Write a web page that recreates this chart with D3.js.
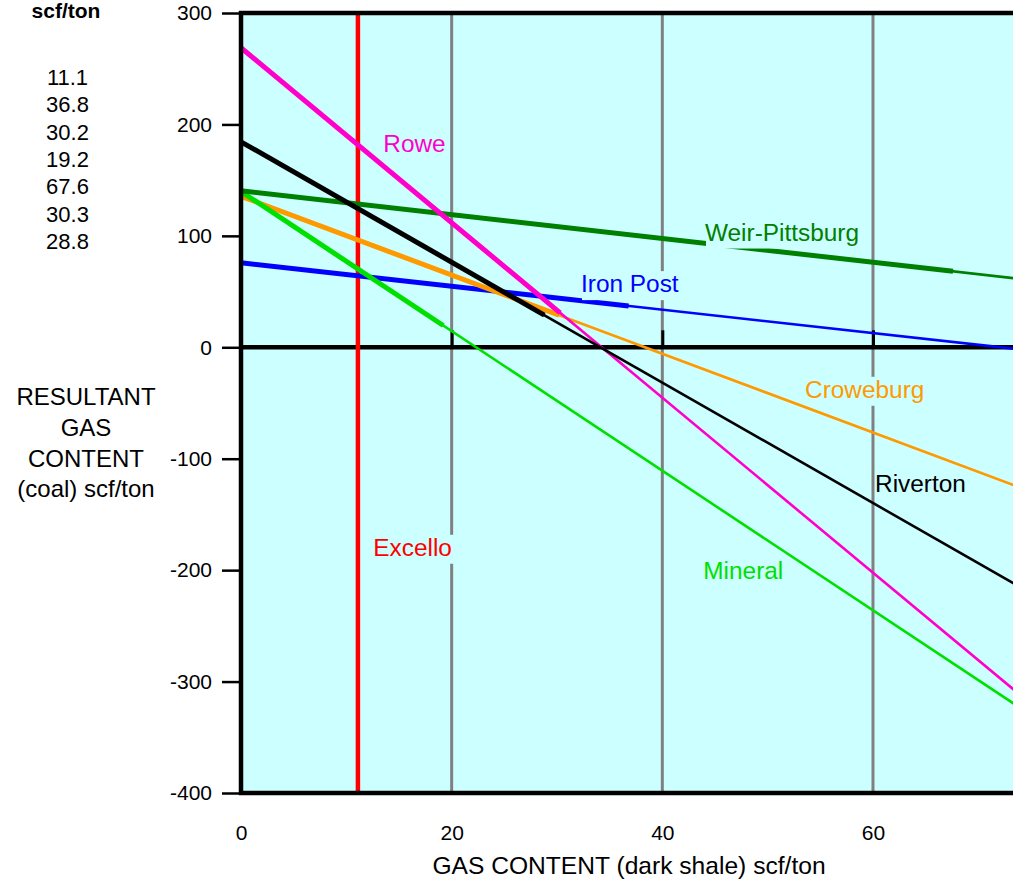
<!DOCTYPE html>
<html><head><meta charset="utf-8">
<script src="https://cdn.jsdelivr.net/npm/d3@7"></script>
<style>
body{margin:0;background:#fff}
svg{display:block;font-family:"Liberation Sans",Arial,Helvetica,sans-serif}
</style>
</head><body>
<svg id="chart" width="1013" height="884"></svg>
<script>
// ---- data ----
const seams      = ["Excello", "Iron Post", "Croweburg", "Mineral", "Weir-Pittsburg", "Rowe", "Riverton"];
const shaleGas   = [11.1, 36.8, 30.2, 19.2, 67.6, 30.3, 28.8];          // scf/ton (thick part ends here)
const coalAtZero = [null, 75.8, 135.5, 139.8, 140.5, 268.8, 184.4];     // resultant gas content at x = 0
const coalAtEnd  = [null, -8.3, -147.1, -361.3, 54.9, -359.3, -247.8];  // resultant gas content at x = 80
const labelAtX   = [12.56, 32.28, 53.55, 43.89, 44.05, 13.51, 60.2];    // label anchor (data units)
const labelAtY   = [-187.1, 49.5, -45.3, -207.8, 95.8, 175.4, -129.7];
const xTicks = [0, 20, 40, 60];
const yTicks = [300, 200, 100, 0, -100, -200, -300, -400];
const gridX  = [20, 40, 60];
const yTitleLines = ["RESULTANT", "GAS", "CONTENT", "(coal) scf/ton"];
const xTitle = "GAS CONTENT (dark shale) scf/ton";
const listTitle = "scf/ton";

const seamColors = ["#FF0000", "#0000FF", "#FF9900", "#00E000", "#008000", "#FF00CC", "#000000"];
const plotBg = "#CCFFFF";

// ---- scales ----
const xDomainEnd = 80;
const x = d3.scaleLinear().domain([0, xDomainEnd]).range([241, 241 + xDomainEnd * 10.533]);
const y = d3.scaleLinear().domain([-400, 300]).range([793, 13]);

const svg = d3.select("#chart");

// plot background
svg.append("rect")
  .attr("x", x(0)).attr("y", y(300))
  .attr("width", x(xDomainEnd) - x(0)).attr("height", y(-400) - y(300))
  .attr("fill", plotBg);

// vertical grid lines
svg.append("g").selectAll("line").data(gridX).join("line")
  .attr("x1", d => x(d)).attr("x2", d => x(d))
  .attr("y1", y(300)).attr("y2", y(-400))
  .attr("stroke", "#808080").attr("stroke-width", 3);

// zero line
svg.append("line")
  .attr("x1", x(0)).attr("x2", x(xDomainEnd))
  .attr("y1", y(0)).attr("y2", y(0))
  .attr("stroke", "#000").attr("stroke-width", 4.5);

// zero-line ticks
const zeroAxis = svg.append("g").attr("transform", `translate(0,${y(0)})`)
  .call(d3.axisTop(x).tickValues(gridX).tickSize(17).tickFormat(""));
zeroAxis.select(".domain").remove();
zeroAxis.selectAll("line").attr("stroke", "#000").attr("stroke-width", 3);

// seam lines: thin full line + thick part from 0 to the seam's shale gas value
const lineG = svg.append("g");
seams.forEach((name, i) => {
  const c = seamColors[i];
  if (coalAtZero[i] === null) {
    // vertical line (Excello)
    lineG.append("line")
      .attr("x1", x(shaleGas[i])).attr("x2", x(shaleGas[i]))
      .attr("y1", y(300)).attr("y2", y(-400))
      .attr("stroke", c).attr("stroke-width", 4.5);
    return;
  }
  const f = v => coalAtZero[i] + (coalAtEnd[i] - coalAtZero[i]) * v / xDomainEnd;
  lineG.append("line")
    .attr("x1", x(0)).attr("y1", y(f(0)))
    .attr("x2", x(xDomainEnd)).attr("y2", y(f(xDomainEnd)))
    .attr("stroke", c).attr("stroke-width", 2.6);
  lineG.append("line")
    .attr("x1", x(0)).attr("y1", y(f(0)))
    .attr("x2", x(shaleGas[i])).attr("y2", y(f(shaleGas[i])))
    .attr("stroke", c).attr("stroke-width", 5);
});

// seam labels with background boxes
const labG = svg.append("g");
seams.forEach((name, i) => {
  const g = labG.append("g");
  const r = g.append("rect").attr("fill", plotBg);
  const t = g.append("text")
    .attr("x", x(labelAtX[i])).attr("y", y(labelAtY[i]))
    .attr("font-size", 24.4).attr("fill", seamColors[i]).text(name);
  const b = t.node().getBBox();
  r.attr("x", b.x + 1).attr("y", b.y + 1).attr("width", b.width + 1).attr("height", b.height + 2);
});

// frame (top, left, bottom)
const frame = svg.append("g").attr("stroke", "#000").attr("stroke-width", 4.5);
frame.append("line").attr("x1", x(0) - 2).attr("x2", x(xDomainEnd)).attr("y1", y(300)).attr("y2", y(300));
frame.append("line").attr("x1", x(0)).attr("x2", x(0)).attr("y1", y(300) - 2).attr("y2", y(-400) + 2);
frame.append("line").attr("x1", x(0) - 2).attr("x2", x(xDomainEnd)).attr("y1", y(-400)).attr("y2", y(-400));

// y axis ticks + labels (plain hyphen for negatives, as in the reference)
const yAx = svg.append("g").attr("transform", `translate(${x(0) - 1},0)`)
  .call(d3.axisLeft(y).tickValues(yTicks).tickSize(18).tickPadding(10).tickFormat(d => String(d)));
yAx.select(".domain").remove();
yAx.selectAll("line").attr("stroke", "#000").attr("stroke-width", 2.5);
yAx.selectAll("text").attr("font-size", 21).attr("fill", "#000")
  .attr("font-family", '"Liberation Sans",Arial,sans-serif');

// x axis labels
const xAx = svg.append("g").attr("transform", `translate(0,${y(-400)})`)
  .call(d3.axisBottom(x).tickValues(xTicks).tickSize(0).tickPadding(32).tickFormat(d => String(d)));
xAx.select(".domain").remove();
xAx.selectAll("text").attr("font-size", 21).attr("fill", "#000")
  .attr("font-family", '"Liberation Sans",Arial,sans-serif');

// axis titles
svg.append("text").attr("x", 629).attr("y", 874).attr("text-anchor", "middle")
  .attr("font-size", 24.6).text(xTitle);
svg.append("g").selectAll("text").data(yTitleLines).join("text")
  .attr("x", 86).attr("y", (d, i) => 405 + i * 30.8).attr("text-anchor", "middle")
  .attr("font-size", 24).text(d => d);

// list of seam shale gas values
svg.append("text").attr("x", 66).attr("y", 18).attr("text-anchor", "middle")
  .attr("font-size", 21).attr("font-weight", "bold").text(listTitle);
svg.append("g").selectAll("text").data(shaleGas).join("text")
  .attr("x", 67.5).attr("y", (d, i) => 85 + i * 27.35).attr("text-anchor", "middle")
  .attr("font-size", 22).text(d => d.toFixed(1));
</script>
</body></html>
